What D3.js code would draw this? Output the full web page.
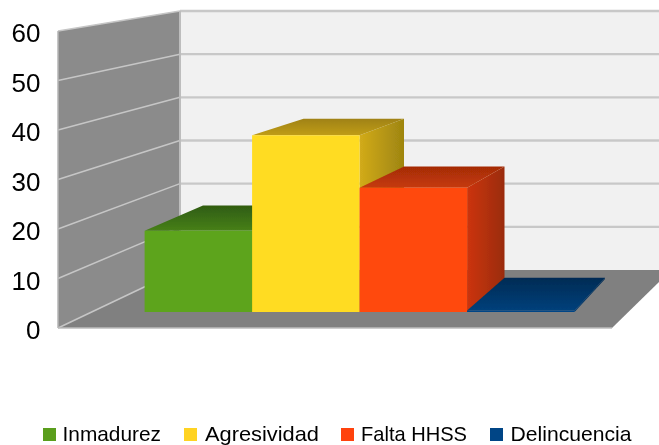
<!DOCTYPE html>
<html><head><meta charset="utf-8">
<script src="https://cdn.jsdelivr.net/npm/d3@7"></script>
<style>html,body{margin:0;background:#fff}svg{display:block}text{font-family:"Liberation Sans",Arial,sans-serif}</style>
</head><body><div id="c"></div>
<script>
const categories = ["Inmadurez","Agresividad","Falta HHSS","Delincuencia"];
const values = [17, 37, 26, 0.3];
const colors = ["#5da41e","#ffdc20","#ff490d","#004586"];
const legendColors = ["#5a9e1e","#ffd320","#ff420e","#004586"];
const sideFrom = ["#4a8418","#d2ab1a","#cc3409","#003a70"];
const sideTo = ["#33600f","#9e8510","#9a2c07","#002c55"];
const topFront = ["#47801a","#c09d17","#c63a08","#00407b"];
const topBack = ["#2f5c10","#a08212","#a42b06","#002b54"];
const tickValues = [0,10,20,30,40,50,60];
const legendX = [43,184,341,490];
const legendTextX = [62.5,205,361,510.5];
const legendTextW = [98.5,114,106,121];

const W=659,H=445;
const svg=d3.select("#c").append("svg").attr("width",W).attr("height",H);
const defs=svg.append("defs");
defs.append("filter").attr("id","soft").attr("x","-5%").attr("y","-5%").attr("width","110%").attr("height","110%")
  .append("feGaussianBlur").attr("stdDeviation",0.45);
defs.append("filter").attr("id","softText").attr("x","-5%").attr("y","-5%").attr("width","110%").attr("height","110%")
  .append("feGaussianBlur").attr("stdDeviation",0.3);

// four depth planes of the 3D box
const yWallFront=d3.scaleLinear().domain([0,60]).range([328,31]);
const yWallBack=d3.scaleLinear().domain([0,60]).range([270,11]);
const yBarFront=d3.scaleLinear().domain([0,60]).range([312,25.5]);
const yBarBack=d3.scaleLinear().domain([0,60]).range([279,19.2]);
const xBarFront=d3.scaleBand().domain(categories).range([144.6,574.6]);
const xBarBack=d3.scaleBand().domain(categories).range([203,605]);

const g=svg.append("g").attr("filter","url(#soft)");
const poly=(pts,fill)=>g.append("polygon").attr("points",pts.map(p=>p.join(",")).join(" ")).attr("fill",fill);

// back wall
poly([[180,11],[659,11],[659,270],[180,270]],"#f1f1f1");
// floor
poly([[58,328],[612,328],[659,282],[659,270],[180,270]],"#808080");
// side wall
poly([[58,yWallFront(60)],[180,yWallBack(60)],[180,yWallBack(0)],[58,yWallFront(0)]],"#8b8b8b");

// grid lines
g.selectAll(".gb").data(tickValues.filter(d=>d>0)).join("line")
  .attr("x1",180).attr("x2",659).attr("y1",d=>yWallBack(d)).attr("y2",d=>yWallBack(d))
  .attr("stroke","#c8c8c8").attr("stroke-width",2.4);
g.selectAll(".gw").data(tickValues).join("line")
  .attr("x1",58).attr("x2",180).attr("y1",d=>yWallFront(d)).attr("y2",d=>yWallBack(d))
  .attr("stroke","#c6c6c6").attr("stroke-width",1.5);
g.append("line").attr("x1",180).attr("x2",180).attr("y1",11).attr("y2",270).attr("stroke","#bdbdbd").attr("stroke-width",2);
g.append("line").attr("x1",58).attr("x2",58).attr("y1",31).attr("y2",328).attr("stroke","#b4b4b4").attr("stroke-width",1.5);
g.append("line").attr("x1",58).attr("x2",612).attr("y1",328).attr("y2",328).attr("stroke","#bdbdbd").attr("stroke-width",1.5);

// gradients
categories.forEach((c,i)=>{
  const s=defs.append("linearGradient").attr("id","side"+i).attr("x1",0).attr("x2",1).attr("y1",0).attr("y2",0);
  s.append("stop").attr("offset",0).attr("stop-color",sideFrom[i]);
  s.append("stop").attr("offset",1).attr("stop-color",sideTo[i]);
  const t=defs.append("linearGradient").attr("id","top"+i).attr("x1",0).attr("x2",0).attr("y1",1).attr("y2",0);
  t.append("stop").attr("offset",0).attr("stop-color",topFront[i]);
  t.append("stop").attr("offset",1).attr("stop-color",topBack[i]);
});

// bars
categories.forEach((c,i)=>{
  const v=values[i], b=xBarFront.bandwidth(), bb=xBarBack.bandwidth();
  const fl=xBarFront(c), fr=fl+b, bl=xBarBack(c), br=bl+bb;
  poly([[fr,yBarFront(v)],[br,yBarBack(v)],[br,yBarBack(0)],[fr,yBarFront(0)]],`url(#side${i})`);
  poly([[fl,yBarFront(v)],[bl,yBarBack(v)],[br,yBarBack(v)],[fr,yBarFront(v)]],`url(#top${i})`);
  poly([[fl,yBarFront(v)],[fr,yBarFront(v)],[fr,yBarFront(0)],[fl,yBarFront(0)]],colors[i]);
});

// axis labels
const yAxisG=svg.append("g").attr("transform","translate(40.5,2.5)").attr("filter","url(#softText)")
  .call(d3.axisLeft(yWallFront).tickValues(tickValues).tickSize(0).tickPadding(0));
yAxisG.select(".domain").remove();
yAxisG.selectAll("text").attr("font-size",26).attr("fill","#000").style("font-family",'"Liberation Sans",Arial,sans-serif');

// legend
const lg=svg.append("g").attr("filter","url(#softText)").selectAll("g").data(categories).join("g");
lg.append("rect").attr("x",(d,i)=>legendX[i]).attr("y",428).attr("width",13).attr("height",13).attr("fill",(d,i)=>legendColors[i]);
lg.append("text").attr("x",(d,i)=>legendTextX[i]).attr("y",441).attr("font-size",21).attr("fill","#000")
  .attr("textLength",(d,i)=>legendTextW[i]).attr("lengthAdjust","spacingAndGlyphs").text(d=>d);
</script></body></html>
